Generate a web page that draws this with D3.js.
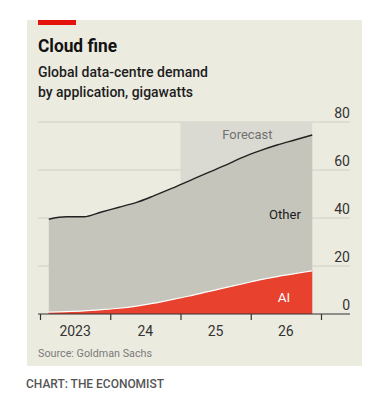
<!DOCTYPE html>
<html><head><meta charset="utf-8">
<script src="https://cdn.jsdelivr.net/npm/d3@7"></script>
<style>
body{margin:0;background:#fff;}
svg{display:block;font-family:Roboto,"Noto Sans",sans-serif;}
</style></head>
<body>
<svg id="c" width="382" height="410"></svg>
<script>
const quarters = ["2023Q1","2023Q2","2023Q3","2023Q4","2024Q1","2024Q2","2024Q3","2024Q4","2025Q1","2025Q2","2025Q3","2025Q4","2026Q1","2026Q2","2026Q3","2026Q4"];
const totalValues = [39.5,40.5,40.5,42.5,44.5,46.5,49.3,52.3,55.5,58.7,61.8,65.2,68.0,70.4,72.5,74.6];
const aiValues = [0.8,1.0,1.3,1.8,2.4,3.3,4.5,6.0,7.5,9.2,10.9,12.5,14.2,15.6,16.8,18.0];
const yTicks = [0,20,40,60,80];
const xTickYears = [2023,2024,2025,2026,2027];
const xLabels = ["2023","24","25","26"];
const forecastStart = 2025;

const svg = d3.select("#c");
svg.append("rect").attr("x",27).attr("y",20).attr("width",335).attr("height",346).attr("fill","#ecebe0");
svg.append("rect").attr("x",38).attr("y",20).attr("width",38).attr("height",5).attr("fill","#e3120b");
svg.append("text").attr("x",38).attr("y",52).attr("font-size",18.5).attr("font-weight",700).attr("fill","#121212")
  .attr("textLength",79).attr("lengthAdjust","spacingAndGlyphs").text("Cloud fine");
svg.append("text").attr("x",38).attr("y",77).attr("font-size",14.5).attr("font-weight",500).attr("fill","#1d1d1d")
  .attr("textLength",170).attr("lengthAdjust","spacingAndGlyphs").text("Global data-centre demand");
svg.append("text").attr("x",38).attr("y",97).attr("font-size",14.5).attr("font-weight",500).attr("fill","#1d1d1d")
  .attr("textLength",155).attr("lengthAdjust","spacingAndGlyphs").text("by application, gigawatts");

const x = d3.scaleLinear().domain([2023,2027]).range([40,321]);
const y = d3.scaleLinear().domain([0,80]).range([314,122]);
const data = quarters.map((q,i)=>({t:+q.slice(0,4)+(+q.slice(5)-1)/4+0.125, total: totalValues[i], ai: aiValues[i]}));

// gridlines
svg.append("g").selectAll("line").data(yTicks.filter(d=>d>0)).join("line")
  .attr("x1",38).attr("x2",350).attr("y1",d=>y(d)).attr("y2",d=>y(d))
  .attr("stroke","#cfcfc5").attr("stroke-width",1);

// forecast box
const tEnd = data[data.length-1].t;
svg.append("rect").attr("x",x(forecastStart)).attr("y",y(80)).attr("width",x(tEnd)-x(forecastStart)).attr("height",y(0)-y(80)).attr("fill","#dadad2");
svg.append("text").attr("x",(x(forecastStart)+x(tEnd))/2+1).attr("y",139).attr("text-anchor","middle").attr("font-size",13.5).attr("fill","#707070")
  .attr("textLength",50).attr("lengthAdjust","spacingAndGlyphs").text("Forecast");

const curve = d3.curveMonotoneX;
svg.append("path").datum(data).attr("fill","#c5c5bb")
  .attr("d",d3.area().x(d=>x(d.t)).y0(y(0)).y1(d=>y(d.total)).curve(curve));
svg.append("path").datum(data).attr("fill","#e8412e")
  .attr("d",d3.area().x(d=>x(d.t)).y0(y(0)).y1(d=>y(d.ai)).curve(curve));
svg.append("path").datum(data).attr("fill","none").attr("stroke","#fff").attr("stroke-width",1.2)
  .attr("d",d3.line().x(d=>x(d.t)).y(d=>y(d.ai)).curve(curve));
svg.append("path").datum(data).attr("fill","none").attr("stroke","#222").attr("stroke-width",1.4)
  .attr("d",d3.line().x(d=>x(d.t)).y(d=>y(d.total)).curve(curve));

svg.append("text").attr("x",301).attr("y",219).attr("text-anchor","end").attr("font-size",13.5).attr("fill","#1d1d1d")
  .attr("textLength",32).attr("lengthAdjust","spacingAndGlyphs").text("Other");
svg.append("text").attr("x",284).attr("y",302).attr("text-anchor","middle").attr("font-size",13.5).attr("fill","#fff").text("AI");

// y labels
svg.append("g").selectAll("text").data(yTicks).join("text")
  .attr("x",350).attr("y",d=>y(d)-4).attr("text-anchor","end").attr("font-size",14).attr("fill","#333").text(d=>d);

// x axis
const xAxis = d3.axisBottom(x).tickValues(xTickYears).tickSize(6).tickFormat("");
const gx = svg.append("g").attr("transform",`translate(0,${y(0)})`).call(xAxis);
gx.select(".domain").remove();
gx.selectAll(".tick line").attr("stroke","#333").attr("stroke-width",1.2);
svg.append("line").attr("x1",38).attr("x2",350).attr("y1",y(0)).attr("y2",y(0)).attr("stroke","#333").attr("stroke-width",1.2);
svg.append("g").selectAll("text").data(xLabels).join("text")
  .attr("x",(d,i)=>x(xTickYears[i]+0.5)).attr("y",336).attr("text-anchor","middle").attr("font-size",14).attr("fill","#333").text(d=>d);

svg.append("text").attr("x",38).attr("y",357).attr("font-size",11.5).attr("fill","#7a7a7a")
  .attr("textLength",114).attr("lengthAdjust","spacingAndGlyphs").text("Source: Goldman Sachs");
svg.append("text").attr("x",26).attr("y",388).attr("font-size",12).attr("font-weight",500).attr("fill","#555")
  .attr("textLength",138).attr("lengthAdjust","spacingAndGlyphs").text("CHART: THE ECONOMIST");
</script>
</body></html>
